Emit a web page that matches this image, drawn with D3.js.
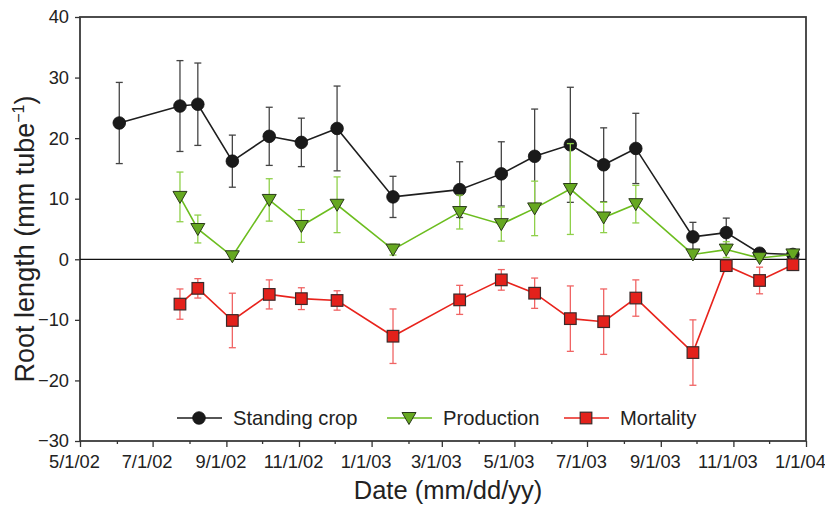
<!DOCTYPE html>
<html>
<head>
<meta charset="utf-8">
<script src="https://cdn.jsdelivr.net/npm/d3@7"></script>
<style>
  body { margin: 0; background: #fff; }
  svg { font-family: "Liberation Sans", Arial, sans-serif; }
</style>
</head>
<body>
<svg id="chart" width="825" height="509"></svg>
<script>
const dates = ['2002-06-03', '2002-07-24', '2002-08-08', '2002-09-06', '2002-10-07', '2002-11-03',
  '2002-12-03', '2003-01-19', '2003-03-16', '2003-04-20', '2003-05-18', '2003-06-17',
  '2003-07-15', '2003-08-11', '2003-09-28', '2003-10-26', '2003-11-23', '2003-12-21'];

// standing crop (all dates)
const standingMean = [22.5, 25.3, 25.6, 16.2, 20.3, 19.3, 21.6, 10.3, 11.5, 14.1, 17.0, 18.9, 15.6, 18.3, 3.7, 4.4, 1.0, 0.8];
const standingErr = [6.7, 7.5, 6.8, 4.3, 4.8, 4.0, 7.0, 3.4, 4.6, 5.3, 7.8, 9.5, 6.1, 5.8, 2.4, 2.4, 0.5, 0.3];

// production & mortality start at the second date
const productionMean = [null, 10.3, 5.0, 0.5, 9.8, 5.5, 9.0, 1.6, 7.8, 5.8, 8.4, 11.6, 6.9, 9.1, 0.8, 1.6, 0.2, 0.8];
const productionErr = [null, 4.1, 2.3, 0.3, 3.5, 2.7, 4.6, 0.9, 2.8, 2.8, 4.5, 7.5, 2.5, 3.1, 0.3, 1.3, 0.3, 0.6];

const mortalityMean = [null, -7.4, -4.8, -10.1, -5.8, -6.5, -6.8, -12.7, -6.7, -3.4, -5.6, -9.8, -10.3, -6.4, -15.4, -1.05, -3.5, -0.9];
const mortalityErr = [null, 2.5, 1.6, 4.5, 2.4, 1.8, 1.6, 4.5, 2.4, 1.7, 2.5, 5.4, 5.4, 3.0, 5.4, 0.3, 2.2, 0.4];

const yTicks = [-30, -20, -10, 0, 10, 20, 30, 40];

const parse = d3.timeParse('%Y-%m-%d');
const width = 825, height = 509;
const margin = {top: 17, right: 19, bottom: 68, left: 80};

const svg = d3.select('#chart');

const x = d3.scaleTime()
  .domain([parse('2002-05-01'), parse('2004-01-01')])
  .range([margin.left, width - margin.right]);

const y = d3.scaleLinear()
  .domain([-30, 40])
  .range([height - margin.bottom, margin.top]);

// frame
svg.append('rect')
  .attr('x', x.range()[0])
  .attr('y', y.range()[1])
  .attr('width', x.range()[1] - x.range()[0])
  .attr('height', y.range()[0] - y.range()[1])
  .attr('fill', 'none')
  .attr('stroke', '#3a3a3a')
  .attr('stroke-width', 1.8);

// zero line
svg.append('line')
  .attr('x1', x.range()[0]).attr('x2', x.range()[1])
  .attr('y1', y(0)).attr('y2', y(0))
  .attr('stroke', '#111')
  .attr('stroke-width', 1.3);

// y axis
svg.append('g')
  .attr('transform', `translate(${margin.left},0)`)
  .call(d3.axisLeft(y).tickValues(yTicks).tickSize(5).tickPadding(6)
    .tickFormat(d => d < 0 ? '\u2212' + Math.abs(d) : d));

// x axis: major every 2 months, minor monthly
const majorTicks = d3.timeMonth.every(2).range(parse('2002-05-01'), parse('2004-01-02'));
const minorTicks = d3.timeMonth.range(parse('2002-05-01'), parse('2004-01-02'))
  .filter(d => majorTicks.every(m => +m !== +d));

svg.append('g')
  .attr('transform', `translate(0,${height - margin.bottom})`)
  .call(d3.axisBottom(x).tickValues(minorTicks).tickSize(3).tickFormat(''));

const xAxis = svg.append('g')
  .attr('transform', `translate(0,${height - margin.bottom})`)
  .call(d3.axisBottom(x).tickValues(majorTicks).tickSize(6).tickPadding(8)
    .tickFormat(d3.timeFormat('%-m/%-d/%y')));
xAxis.selectAll('.tick text').attr('dx', -6);

svg.selectAll('.domain').remove();
svg.selectAll('.tick line').attr('stroke', '#333').attr('stroke-width', 1.3);
svg.selectAll('.tick text').attr('font-size', 18.3).attr('fill', '#222');

// axis titles
svg.append('text')
  .attr('x', 448)
  .attr('y', 499)
  .attr('text-anchor', 'middle')
  .attr('font-size', 25.5)
  .attr('fill', '#222')
  .text('Date (mm/dd/yy)');

const yTitle = svg.append('text')
  .attr('transform', 'translate(34,239) rotate(-90)')
  .attr('text-anchor', 'middle')
  .attr('font-size', 27)
  .attr('fill', '#222');
yTitle.append('tspan').text('Root length (mm tube');
yTitle.append('tspan').attr('font-size', 16).attr('dy', -10).text('\u22121');
yTitle.append('tspan').attr('dy', 10).text(')');

// series
const series = [
  {name: 'Standing crop', mean: standingMean, err: standingErr, line: '#1e1e1e', errColor: '#444', fill: '#1a1a1a', shape: 'circle'},
  {name: 'Production', mean: productionMean, err: productionErr, line: '#6cbd1f', errColor: '#8fd04a', fill: '#66a821', shape: 'triangle'},
  {name: 'Mortality', mean: mortalityMean, err: mortalityErr, line: '#e8231c', errColor: '#f06464', fill: '#e3211b', shape: 'square'}
];

function rows(s) {
  return dates.map((d, i) => ({date: parse(d), v: s.mean[i], e: s.err[i]})).filter(r => r.v != null);
}

function drawMarker(g, shape, fill) {
  if (shape === 'circle') {
    g.append('circle').attr('r', 6.3).attr('fill', fill).attr('stroke', '#111').attr('stroke-width', 0.8);
  } else if (shape === 'triangle') {
    g.append('path').attr('d', 'M-7,-5.5 L7,-5.5 L0,6.5 Z').attr('fill', fill)
      .attr('stroke', '#2a3a1a').attr('stroke-width', 1);
  } else {
    g.append('rect').attr('x', -5.8).attr('y', -5.8).attr('width', 11.6).attr('height', 11.6)
      .attr('fill', fill).attr('stroke', '#3a2a2a').attr('stroke-width', 1.2);
  }
}

const line = d3.line().x(d => x(d.date)).y(d => y(d.v));

series.forEach(s => {
  const data = rows(s);
  const eg = svg.append('g');
  data.forEach(r => {
    const cx = x(r.date);
    eg.append('line').attr('x1', cx).attr('x2', cx)
      .attr('y1', y(r.v + r.e)).attr('y2', y(r.v - r.e))
      .attr('stroke', s.errColor).attr('stroke-width', 1.3);
    [r.v + r.e, r.v - r.e].forEach(v => {
      eg.append('line').attr('x1', cx - 3.5).attr('x2', cx + 3.5)
        .attr('y1', y(v)).attr('y2', y(v))
        .attr('stroke', s.errColor).attr('stroke-width', 1.3);
    });
  });
  svg.append('path').datum(data)
    .attr('d', line)
    .attr('fill', 'none')
    .attr('stroke', s.line)
    .attr('stroke-width', 1.6);
  data.forEach(r => {
    const g = svg.append('g').attr('transform', `translate(${x(r.date)},${y(r.v)})`);
    drawMarker(g, s.shape, s.fill);
  });
});

// legend
const legendX = [177, 387, 564];
const legendY = 418;
series.forEach((s, i) => {
  const g = svg.append('g').attr('transform', `translate(${legendX[i]},${legendY})`);
  g.append('line').attr('x1', 0).attr('x2', 45).attr('y1', 0).attr('y2', 0)
    .attr('stroke', s.line).attr('stroke-width', 1.6);
  drawMarker(g.append('g').attr('transform', 'translate(22,0)'), s.shape, s.fill);
  g.append('text').attr('x', 56).attr('y', 7)
    .attr('font-size', 20.2).attr('fill', '#222').text(s.name);
});
</script>
</body>
</html>
